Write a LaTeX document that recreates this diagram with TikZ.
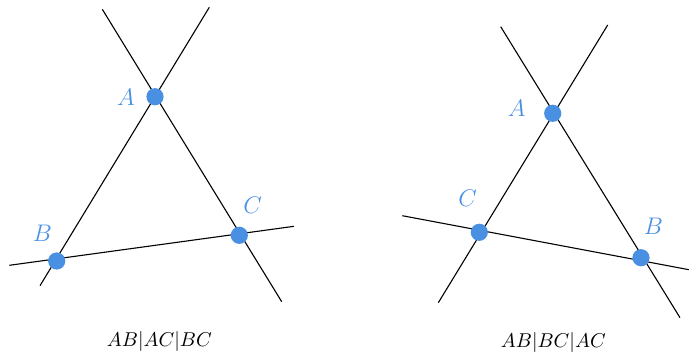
\documentclass[tikz,border=0pt]{standalone}
\usepackage{amsmath,amssymb}
\usepackage{tikz}
\usetikzlibrary{arrows.meta,positioning,calc}
\usepackage{xcolor}

\definecolor{ptblue}{HTML}{4A90E2}

\tikzset{
  pt/.style={circle, fill=ptblue, inner sep=0pt, minimum size=8.6pt},
  ptlabel/.style={text=ptblue, font=\fontsize{13.2}{16}\selectfont},
  caption/.style={anchor=base, font=\fontsize{9.8}{12}\selectfont},
  ln/.style={line width=0.55pt}
}

\begin{document}
\begin{tikzpicture}[x=0.5pt, y=-0.5pt]
  \useasboundingbox (0,0) rectangle (689,354);

  % Define coordinates for line ends (left)
  \coordinate (ab1) at (40,285.7);
  \coordinate (ab2) at (209.3,7.3);
  \coordinate (ac1) at (102.3,9.3);
  \coordinate (ac2) at (281.7,301.7);
  \coordinate (bc1) at (9.3,265.3);
  \coordinate (bc2) at (294,226.3);

  % Define coordinates for line ends (right)
  \coordinate (ac3) at (438.3,302.7);
  \coordinate (ac4) at (607.7,25);
  \coordinate (ab3) at (500.7,26.7);
  \coordinate (ab4) at (680,317.7);
  \coordinate (cb3) at (402.3,215.7);
  \coordinate (cb4) at (689,269.7);

  % Draw lines
  \draw[ln] (ab1) -- (ab2);
  \draw[ln] (ac1) -- (ac2);
  \draw[ln] (bc1) -- (bc2);
  \draw[ln] (ac3) -- (ac4);
  \draw[ln] (ab3) -- (ab4);
  \draw[ln] (cb3) -- (cb4);

  % Define points (left)
  \node[pt] (A) at (155,96.7) {};
  \node[pt] (B) at (56.7,261) {};
  \node[pt] (C) at (239.3,235.3) {};
  \node[ptlabel] (lA) at (126,97) {$A$};
  \node[ptlabel] (lB) at (42.3,233.3) {$B$};
  \node[ptlabel] (lC) at (252.7,205.7) {$C$};

  % Define points (right)
  \node[pt] (Ap) at (552.7,113.3) {};
  \node[pt] (Bp) at (641,257.7) {};
  \node[pt] (Cp) at (479.3,232.3) {};
  \node[ptlabel] (lAp) at (516.7,108.3) {$A$};
  \node[ptlabel] (lBp) at (653.3,226.7) {$B$};
  \node[ptlabel] (lCp) at (467.7,198.3) {$C$};

  % Captions
  \node[caption] (cap1) at (159.3,346) {$AB|AC|BC$};
  \node[caption] (cap2) at (553.3,347) {$AB|BC|AC$};
\end{tikzpicture}
\end{document}
